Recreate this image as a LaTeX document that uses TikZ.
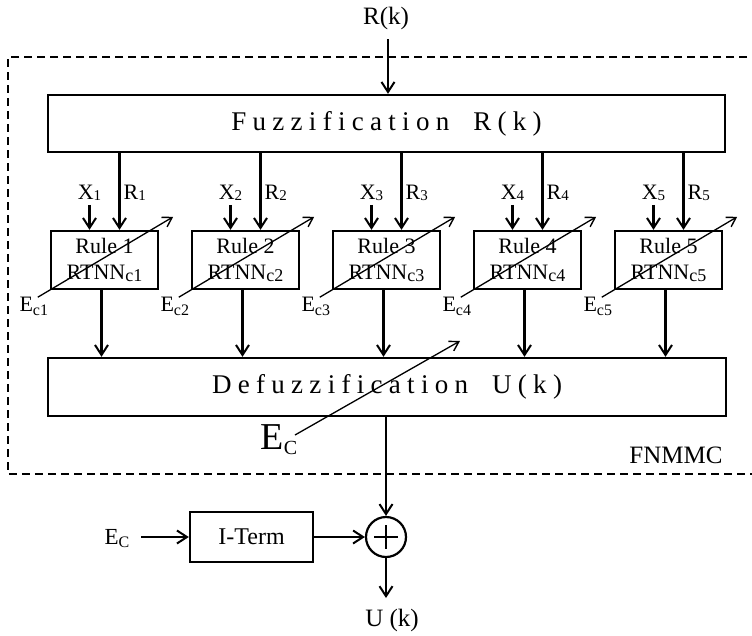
\documentclass[tikz,border=0pt]{standalone}
\usepackage{fontspec}
\setmainfont{Liberation Serif}
\usetikzlibrary{arrows.meta,calc}
\newcommand\fsz[1]{\fontsize{#1}{#1}\selectfont}
\begin{document}
\begin{tikzpicture}[x=1pt,y=-1pt,
  blk/.style={draw, line width=2.4pt, inner sep=0pt},
  arr/.style={line width=2.1pt, -{Straight Barb[length=10pt,width=13pt,line width=2pt]}},
  diag/.style={line width=1.3pt, -{Straight Barb[length=9pt,width=11pt,line width=1.4pt]}},
  lbl/.style={inner sep=0pt, font=\fsz{22}},
  dbox/.style={line width=1.6pt, dash pattern=on 8pt off 5pt},
]
\useasboundingbox (0,0) rectangle (752,635);

% input
\node[inner sep=0pt, font=\fsz{25}] (rk) at (386,18) {R(k)};
\coordinate (rks) at (388,39);

% dashed frame
\draw[dbox] (760,57) -- (8,57) -- (8,474) -- (760,474);
\node[inner sep=0pt, font=\fsz{25}] (fnmmc) at (676,455) {FNMMC};

% fuzzification
\node[blk, minimum width=677pt, minimum height=57pt] (fuzz) at (386.5,123.5)
  {\fsz{27}\spaceskip=6.3pt F u z z i f i c a t i o n\hspace{24pt}R ( k )};
\draw[arr] (rks) -- (rks |- fuzz.north);

% defuzzification
\node[blk, minimum width=678pt, minimum height=58pt] (defuzz) at (387,387)
  {\fsz{27}\spaceskip=6.3pt D e f u z z i f i c a t i o n\hspace{24pt}U ( k )};

% rules
\foreach \i/\cx in {1/104.5,2/245.5,3/386.5,4/527.5,5/668.5}{
  \node[blk, minimum width=107pt, minimum height=58pt, align=center,
        font=\fontsize{22}{26}\selectfont] (rule\i) at (\cx,260)
        {Rule \i\\RTNN\raisebox{-1.5pt}{\fsz{18}c\i}};
  \coordinate (rin\i) at ($(rule\i.north)+(15,0)$);
  \coordinate (xin\i) at ($(rule\i.north)+(-15,0)$);
  \coordinate (xs\i) at ($(xin\i)+(0,-25)$);
  \draw[arr] (rin\i |- fuzz.south) -- (rin\i);
  \draw[arr] (xs\i) -- (xin\i);
  \node[lbl] (xl\i) at ($(xin\i)+(0,-37)$) {X\raisebox{-1pt}{\fsz{15}\i}};
  \node[lbl, anchor=west] (rl\i) at ($(rin\i)+(4,-37)$) {R\raisebox{-1pt}{\fsz{15}\i}};
  \coordinate (rout\i) at ($(rule\i.south)+(-3,0)$);
  \draw[arr] (rout\i) -- (rout\i |- defuzz.north);
  \coordinate (ds\i) at ($(rule\i.south west)+(-12,7)$);
  \coordinate (de\i) at ($(rule\i.north east)+(14,-13)$);
  \draw[diag] (ds\i) -- (de\i);
  \node[lbl] (ec\i) at ($(ds\i)+(-4,9)$) {E\raisebox{-3.5pt}{\fsz{16}c\i}};
}

% big Ec adaptation arrow
\node[inner sep=0pt, font=\fsz{38}] (ecbig) at (279,440) {E\raisebox{-5pt}{\fsz{20}C}};
\coordinate (ebs) at (295,435);
\coordinate (ebe) at (460,341);
\draw[diag] (ebs) -- (ebe);

% summation
\node[draw, circle, line width=2.2pt, minimum size=40pt, inner sep=0pt] (sum) at (386,537) {};
\draw[line width=2.2pt] ($(sum.center)+(-12,0)$) -- ($(sum.center)+(12,0)$);
\draw[line width=2.2pt] ($(sum.center)+(0,-12)$) -- ($(sum.center)+(0,12)$);
\draw[arr] (defuzz.south -| sum.north) -- (sum.north);

% I-term
\node[blk, minimum width=123pt, minimum height=50pt, font=\fsz{24}] (iterm) at (251.5,537) {I-Term};
\node[inner sep=0pt, font=\fsz{23}] (ec0) at (117,539) {E\raisebox{-3pt}{\fsz{16}C}};
\coordinate (ecs) at (141,537);
\draw[arr] (ecs) -- (iterm.west);
\draw[arr] (iterm.east) -- (sum.west);

% output
\coordinate (uout) at (386,598);
\draw[arr] (sum.south) -- (uout);
\node[inner sep=0pt, font=\fsz{25}] (uk) at (392,620) {U (k)};
\end{tikzpicture}
\end{document}
